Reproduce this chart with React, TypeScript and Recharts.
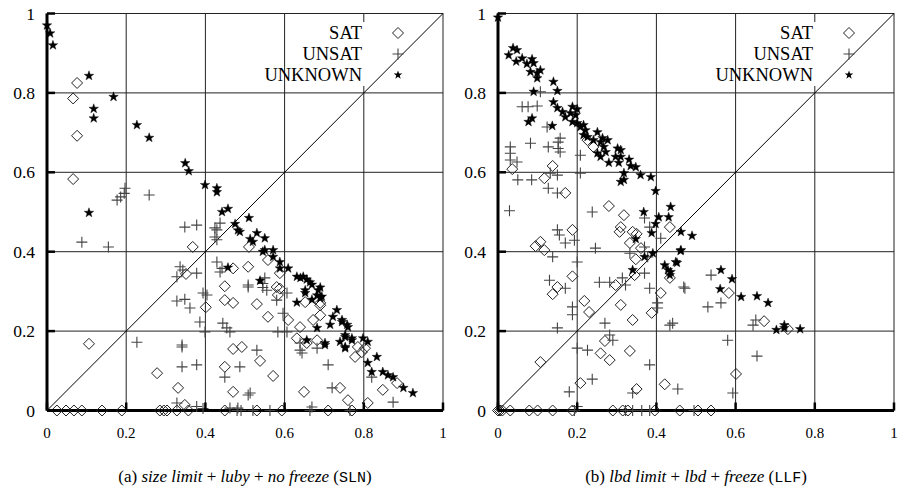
import React from "react";
import { ScatterChart, Scatter, XAxis, YAxis, CartesianGrid, ReferenceLine } from "recharts";

type Pt = [number, number];

// tick values shared by both panels
const ticks = [0, 0.2, 0.4, 0.6, 0.8, 1];
const tickLabels = ["0", "0.2", "0.4", "0.6", "0.8", "1"];
const legendNames = ["SAT", "UNSAT", "UNKNOWN"];

// (a) size limit + luby + no freeze
const leftSat: Pt[] = [
  [0.076, 0.825], [0.066, 0.786], [0.076, 0.692], [0.066, 0.583], [0.106, 0.168], [0.368, 0.412],
  [0.351, 0.344], [0.401, 0.26], [0.278, 0.094], [0.331, 0.057], [0.348, 0.014],
  [0.025, 0], [0.048, 0], [0.068, 0], [0.088, 0], [0.139, 0], [0.189, 0], [0.285, 0], [0.295, 0],
  [0.303, 0], [0.328, 0], [0.357, 0], [0.449, 0], [0.53, 0], [0.593, 0], [0.71, 0], [0.77, 0],
  [0.47, 0.358], [0.508, 0.362], [0.51, 0.412], [0.449, 0.313], [0.449, 0.278], [0.47, 0.271],
  [0.53, 0.268], [0.558, 0.379], [0.58, 0.311], [0.583, 0.291], [0.558, 0.236], [0.588, 0.346],
  [0.588, 0.307], [0.609, 0.228], [0.652, 0.273], [0.69, 0.271], [0.69, 0.24], [0.69, 0.265],
  [0.672, 0.228], [0.639, 0.21], [0.631, 0.182], [0.682, 0.177], [0.656, 0.17], [0.47, 0.155],
  [0.492, 0.16], [0.538, 0.125], [0.449, 0.11], [0.571, 0.087], [0.47, 0.047], [0.649, 0.047],
  [0.74, 0.057], [0.76, 0.026], [0.778, 0.135], [0.785, 0.16], [0.795, 0.147], [0.803, 0.157],
  [0.81, 0.019], [0.848, 0.052], [0.884, 0.069],
];
const leftUnsat: Pt[] = [
  [0.177, 0.53], [0.186, 0.538], [0.195, 0.547], [0.197, 0.56], [0.258, 0.543], [0.088, 0.424],
  [0.155, 0.412], [0.348, 0.462], [0.378, 0.467], [0.336, 0.362], [0.328, 0.337], [0.378, 0.346],
  [0.328, 0.276], [0.348, 0.28], [0.361, 0.258], [0.404, 0.291], [0.386, 0.223], [0.399, 0.198],
  [0.227, 0.172], [0.341, 0.16], [0.341, 0.165], [0.341, 0.11], [0.378, 0.115], [0.328, 0.019],
  [0.378, 0.01], [0.429, 0.374], [0.437, 0.349], [0.429, 0.455], [0.437, 0.472], [0.429, 0.43],
  [0.424, 0.46], [0.424, 0.437], [0.442, 0.358], [0.454, 0.208], [0.449, 0.084], [0.508, 0.316],
  [0.545, 0.32], [0.555, 0.303], [0.58, 0.278], [0.606, 0.296], [0.596, 0.245], [0.583, 0.198],
  [0.606, 0.198], [0.394, 0.296], [0.444, 0.22], [0.462, 0.198], [0.487, 0.11], [0.53, 0.152],
  [0.508, 0.039], [0.639, 0.17], [0.644, 0.145], [0.682, 0.157], [0.71, 0.115], [0.72, 0.057],
  [0.343, 0.354], [0.394, 0.005], [0.669, 0.009], [0.482, 0.006], [0.462, 0.006], [0.508, 0.311],
  [0.55, 0.334], [0.545, 0.31], [0.639, 0.152], [0.82, 0.084], [0.874, 0.021], [0.664, 0],
  [0.48, 0], [0.49, 0], [0.52, 0], [0.563, 0], [0.765, 0], [0.513, 0.044],
];
const leftUnknown: Pt[] = [
  [0, 0.97], [0.008, 0.95], [0.015, 0.92], [0.106, 0.843], [0.168, 0.79], [0.118, 0.76],
  [0.118, 0.736], [0.227, 0.719], [0.258, 0.687], [0.349, 0.623], [0.358, 0.603], [0.399, 0.568],
  [0.429, 0.56], [0.429, 0.55], [0.106, 0.498], [0.442, 0.5], [0.457, 0.508], [0.475, 0.47],
  [0.51, 0.485], [0.482, 0.454], [0.487, 0.45], [0.53, 0.447], [0.513, 0.432], [0.52, 0.425],
  [0.55, 0.434], [0.545, 0.4], [0.55, 0.404], [0.571, 0.404], [0.571, 0.387], [0.588, 0.374],
  [0.588, 0.358], [0.609, 0.358], [0.457, 0.36], [0.538, 0.327], [0.631, 0.337], [0.64, 0.334],
  [0.647, 0.337], [0.656, 0.33], [0.664, 0.323], [0.669, 0.317], [0.69, 0.31], [0.685, 0.303],
  [0.682, 0.29], [0.694, 0.287], [0.69, 0.283], [0.631, 0.272], [0.652, 0.296], [0.652, 0.303],
  [0.669, 0.279], [0.732, 0.253], [0.722, 0.236], [0.745, 0.228], [0.745, 0.223], [0.758, 0.216],
  [0.76, 0.21], [0.715, 0.216], [0.682, 0.208], [0.753, 0.19], [0.753, 0.185], [0.77, 0.177],
  [0.77, 0.182], [0.74, 0.173], [0.753, 0.157], [0.753, 0.16], [0.702, 0.17], [0.702, 0.165],
  [0.656, 0.177], [0.798, 0.182], [0.81, 0.173], [0.833, 0.135], [0.81, 0.12], [0.82, 0.097],
  [0.848, 0.097], [0.861, 0.089], [0.874, 0.084], [0.9, 0.057], [0.924, 0.044],
];

// (b) lbd limit + lbd + freeze
const rightSat: Pt[] = [
  [0.036, 0.608], [0.138, 0.616], [0.117, 0.585], [0.17, 0.548], [0.226, 0.681], [0.241, 0.664],
  [0.28, 0.515], [0.318, 0.492], [0.31, 0.462], [0.307, 0.45], [0.34, 0.45], [0.35, 0.445],
  [0.333, 0.422], [0.361, 0.409], [0.348, 0.381], [0.434, 0.462], [0.188, 0.455], [0.107, 0.425],
  [0.095, 0.414], [0.117, 0.404], [0.188, 0.338], [0.15, 0.311], [0.138, 0.293], [0.218, 0.276],
  [0.23, 0.248], [0.31, 0.266], [0.34, 0.228], [0.388, 0.246], [0.411, 0.296], [0.434, 0.334],
  [0.345, 0.341], [0.297, 0.316], [0.27, 0.175], [0.259, 0.144], [0.282, 0.127], [0.333, 0.15],
  [0.107, 0.122], [0.208, 0.069], [0.35, 0.054], [0.421, 0.066], [0.583, 0.296], [0.672, 0.225],
  [0.732, 0.205], [0.601, 0.092],
  [0, 0], [0.005, 0], [0.011, 0], [0.031, 0], [0.079, 0], [0.1, 0], [0.138, 0], [0.188, 0],
  [0.29, 0], [0.315, 0], [0.328, 0], [0.396, 0], [0.459, 0], [0.505, 0], [0.538, 0],
];
const rightUnsat: Pt[] = [
  [0.029, 0.503], [0.031, 0.664], [0.031, 0.648], [0.031, 0.631], [0.048, 0.626], [0.05, 0.581],
  [0.085, 0.581], [0.127, 0.56], [0.15, 0.548], [0.061, 0.765], [0.076, 0.765], [0.099, 0.767],
  [0.107, 0.803], [0.082, 0.673], [0.124, 0.714], [0.127, 0.664], [0.152, 0.676], [0.152, 0.66],
  [0.157, 0.651], [0.157, 0.686], [0.132, 0.598], [0.15, 0.593], [0.208, 0.598], [0.208, 0.643],
  [0.238, 0.5], [0.37, 0.485], [0.383, 0.462], [0.411, 0.434], [0.15, 0.455], [0.155, 0.442],
  [0.17, 0.422], [0.193, 0.429], [0.2, 0.374], [0.138, 0.387], [0.246, 0.409], [0.333, 0.396],
  [0.37, 0.412], [0.378, 0.387], [0.37, 0.346], [0.256, 0.323], [0.282, 0.323], [0.314, 0.334],
  [0.322, 0.316], [0.13, 0.328], [0.17, 0.308], [0.383, 0.308], [0.403, 0.271], [0.403, 0.258],
  [0.472, 0.308], [0.188, 0.261], [0.188, 0.241], [0.15, 0.208], [0.27, 0.22], [0.282, 0.19],
  [0.29, 0.177], [0.2, 0.157], [0.226, 0.152], [0.434, 0.215], [0.383, 0.115], [0.238, 0.079],
  [0.18, 0.047], [0.34, 0.044], [0.454, 0.054], [0.538, 0.341], [0.53, 0.261], [0.469, 0.311],
  [0.563, 0.271], [0.644, 0.215], [0.651, 0.228], [0.58, 0.177], [0.654, 0.137], [0.593, 0.044],
  [0.441, 0.22], [0.193, 0], [0.322, 0], [0.34, 0], [0.383, 0], [0.495, 0], [0.2, 0.01], [0.363, 0],
];
const rightUnknown: Pt[] = [
  [0, 0.99], [0.027, 0.895], [0.038, 0.913], [0.048, 0.908], [0.046, 0.879], [0.061, 0.887],
  [0.073, 0.873], [0.086, 0.885], [0.09, 0.875], [0.082, 0.853], [0.099, 0.85], [0.107, 0.857],
  [0.099, 0.837], [0.14, 0.828], [0.15, 0.805], [0.09, 0.803], [0.14, 0.777], [0.15, 0.762],
  [0.163, 0.752], [0.17, 0.739], [0.183, 0.749], [0.188, 0.765], [0.196, 0.744], [0.2, 0.759],
  [0.188, 0.727], [0.2, 0.724], [0.208, 0.714], [0.216, 0.719], [0.221, 0.706], [0.216, 0.694],
  [0.226, 0.689], [0.241, 0.681], [0.251, 0.701], [0.259, 0.676], [0.264, 0.686], [0.277, 0.681],
  [0.267, 0.664], [0.272, 0.651], [0.251, 0.648], [0.259, 0.639], [0.28, 0.624], [0.302, 0.66],
  [0.31, 0.656], [0.297, 0.639], [0.31, 0.639], [0.305, 0.624], [0.331, 0.632], [0.335, 0.616],
  [0.348, 0.613], [0.318, 0.598], [0.31, 0.576], [0.318, 0.581], [0.36, 0.593], [0.386, 0.588],
  [0.398, 0.553], [0.368, 0.5], [0.406, 0.487], [0.431, 0.487], [0.436, 0.513], [0.077, 0.727],
  [0.086, 0.736], [0.137, 0.717], [0.398, 0.47], [0.388, 0.447], [0.462, 0.45], [0.49, 0.44],
  [0.462, 0.404], [0.391, 0.396], [0.37, 0.387], [0.348, 0.432], [0.449, 0.374], [0.421, 0.366],
  [0.429, 0.354], [0.436, 0.349], [0.434, 0.341], [0.34, 0.354], [0.461, 0.402], [0.452, 0.372],
  [0.563, 0.354], [0.591, 0.331], [0.561, 0.306], [0.614, 0.286], [0.654, 0.288], [0.682, 0.271],
  [0.703, 0.203], [0.723, 0.215], [0.723, 0.208], [0.763, 0.205],
];

const serif = '"Liberation Serif", "Times New Roman", Times, "DejaVu Serif", serif';
const mono = '"Liberation Mono", "DejaVu Sans Mono", monospace';

const PLOT_L = 47;
const PLOT_T = 13.5;
const PLOT_W = 396;
const PLOT_H = 397;
const CH_W = 450;
const CH_H = 440;

const toObj = (arr: Pt[]) => arr.map(([x, y]) => ({ x, y }));

const starPath = (cx: number, cy: number, R = 5, r = 2) => {
  let d = "";
  for (let i = 0; i < 10; i++) {
    const rad = i % 2 === 0 ? R : r;
    const a = -Math.PI / 2 + (i * Math.PI) / 5;
    d += (i === 0 ? "M" : "L") + (cx + rad * Math.cos(a)).toFixed(2) + "," + (cy + rad * Math.sin(a)).toFixed(2);
  }
  return d + "Z";
};

const Diamond = ({ cx, cy }: any) => (
  <path d={`M${cx},${cy - 5.5}L${cx + 5.5},${cy}L${cx},${cy + 5.5}L${cx - 5.5},${cy}Z`} fill="none" stroke="#222" strokeWidth={1} />
);
const Plus = ({ cx, cy }: any) => (
  <path d={`M${cx - 5.5},${cy}H${cx + 5.5}M${cx},${cy - 5.5}V${cy + 5.5}`} stroke="#444" strokeWidth={1.1} />
);
const Star = ({ cx, cy }: any) => <path d={starPath(cx, cy)} fill="#000" stroke="#000" strokeWidth={0.4} />;

const label = (v: number) => tickLabels[ticks.indexOf(v)] ?? String(v);

const XTick = ({ x, y, payload }: any) => (
  <g>
    <line x1={x} x2={x} y1={y} y2={y - 8} stroke="#000" strokeWidth={2.5} />
    <text x={x} y={y + 27} textAnchor="middle" style={{ fontFamily: serif, fontSize: 15 }} fill="#000">
      {label(payload.value)}
    </text>
  </g>
);
const YTick = ({ x, y, payload }: any) => (
  <g>
    <line x1={x} x2={x + 8} y1={y} y2={y} stroke="#000" strokeWidth={2.5} />
    <text x={x - 12} y={y} textAnchor="end" dominantBaseline="central" style={{ fontFamily: serif, fontSize: 17.5 }} fill="#000">
      {label(payload.value)}
    </text>
  </g>
);

const Legend = () => {
  const tx = PLOT_L + 315;
  const mx = PLOT_L + 351;
  const rows = [33, 54, 75];
  return (
    <svg width={CH_W} height={CH_H} style={{ position: "absolute", left: 0, top: 0, pointerEvents: "none" }}>
      <rect x={PLOT_L + 0.8 * PLOT_W - 1.5} y={22} width={3} height={64} fill="#fff" />
      {legendNames.map((n, i) => (
        <text key={n} x={tx} y={rows[i]} textAnchor="end" dominantBaseline="central" style={{ fontFamily: serif, fontSize: 18.5 }} fill="#000">
          {n}
        </text>
      ))}
      <Diamond cx={mx} cy={rows[0]} />
      <Plus cx={mx} cy={rows[1]} />
      <path d={starPath(mx, rows[2], 4.5, 1.8)} fill="#000" />
    </svg>
  );
};

const Panel = ({ sat, unsat, unknown, left, caption }: any) => (
  <div style={{ position: "absolute", left, top: 0, width: CH_W, height: 489 }}>
    <ScatterChart
      width={CH_W}
      height={CH_H}
      margin={{ top: PLOT_T, left: PLOT_L - 40, right: CH_W - PLOT_L - PLOT_W, bottom: CH_H - PLOT_T - PLOT_H - 25 }}
    >
      <CartesianGrid stroke="#222" strokeWidth={1} />
      <XAxis
        type="number"
        dataKey="x"
        domain={[0, 1]}
        ticks={ticks}
        height={25}
        tickSize={0}
        tickMargin={0}
        tickLine={false}
        axisLine={{ stroke: "#000", strokeWidth: 3 }}
        tick={<XTick />}
        interval={0}
      />
      <YAxis
        type="number"
        dataKey="y"
        domain={[0, 1]}
        ticks={ticks}
        width={40}
        tickSize={0}
        tickMargin={0}
        tickLine={false}
        axisLine={{ stroke: "#000", strokeWidth: 3 }}
        tick={<YTick />}
        interval={0}
      />
      <ReferenceLine segment={[{ x: 0, y: 0 }, { x: 1, y: 1 }]} stroke="#000" strokeWidth={1} ifOverflow="visible" />
      <Scatter data={toObj(sat)} shape={(p: any) => <Diamond cx={p.cx} cy={p.cy} />} isAnimationActive={false} />
      <Scatter data={toObj(unsat)} shape={(p: any) => <Plus cx={p.cx} cy={p.cy} />} isAnimationActive={false} />
      <Scatter data={toObj(unknown)} shape={(p: any) => <Star cx={p.cx} cy={p.cy} />} isAnimationActive={false} />
    </ScatterChart>
    <Legend />
    <div
      style={{
        position: "absolute",
        left: PLOT_L,
        width: PLOT_W,
        top: 467,
        textAlign: "center",
        fontFamily: serif,
        fontSize: 17,
        lineHeight: "20px",
        whiteSpace: "nowrap",
      }}
    >
      {caption}
    </div>
  </div>
);

export default function App() {
  return (
    <div style={{ position: "absolute", left: 0, top: 0, width: 900, height: 489, background: "#fff", overflow: "hidden", fontFamily: serif }}>
      <Panel
        sat={leftSat}
        unsat={leftUnsat}
        unknown={leftUnknown}
        left={0}
        caption={
          <>
            (a) <i>size limit</i> + <i>luby</i> + <i>no freeze</i> (<span style={{ fontFamily: mono, fontSize: 15 }}>SLN</span>)
          </>
        }
      />
      <Panel
        sat={rightSat}
        unsat={rightUnsat}
        unknown={rightUnknown}
        left={451}
        caption={
          <>
            (b) <i>lbd limit</i> + <i>lbd</i> + <i>freeze</i> (<span style={{ fontFamily: mono, fontSize: 15 }}>LLF</span>)
          </>
        }
      />
    </div>
  );
}
